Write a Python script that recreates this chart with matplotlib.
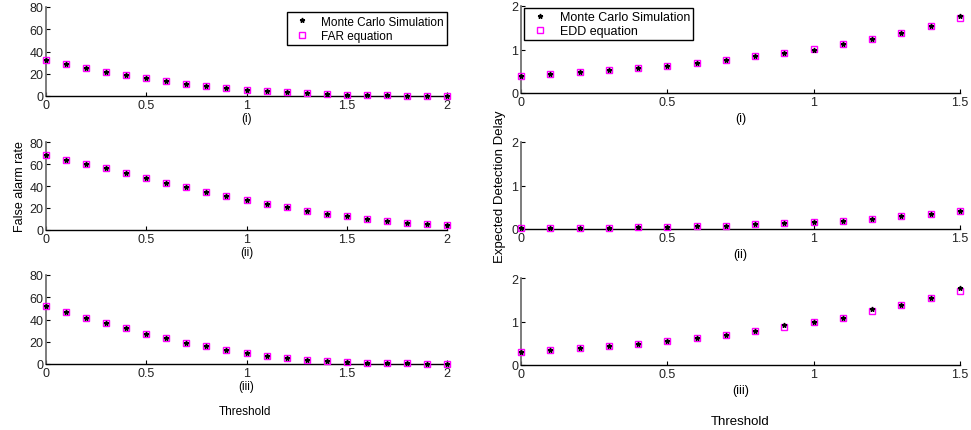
import numpy as np
import matplotlib.pyplot as plt

plt.rcParams['font.family'] = ['Liberation Sans', 'DejaVu Sans']
plt.rcParams['font.size'] = 9

# thresholds
thr_far = np.round(np.arange(0, 2.01, 0.1), 1)
thr_edd = np.round(np.arange(0, 1.51, 0.1), 1)

# false alarm rate: Monte Carlo / equation
far_mc_1 = [32, 28.5, 25, 22, 19, 16, 13.5, 11, 9, 7, 5.5, 4.5, 3.5, 2.5, 1.8, 1.2, 0.8, 0.5, 0.3, 0.2, 0.1]
far_eq_1 = [32, 28.5, 25, 22, 19, 16, 13.5, 11, 9, 7, 5.5, 4.5, 3.5, 2.5, 1.8, 1.2, 0.8, 0.5, 0.3, 0.2, 0.1]
far_mc_2 = [68, 64, 60, 56, 52, 47.5, 43, 39, 35, 31, 27.5, 24, 20.5, 17.5, 14.5, 12.5, 10, 8, 6.5, 5.5, 4.5]
far_eq_2 = [68, 64, 60, 56, 52, 47.5, 43, 39, 35, 31, 27.5, 24, 20.5, 17.5, 14.5, 12.5, 10, 8, 6.5, 5.5, 4.5]
far_mc_3 = [52, 47, 41.5, 36.5, 32, 27, 23, 19, 16, 12.5, 10, 7.5, 5.5, 4, 3, 2, 1.2, 0.8, 0.5, 0.3, 0.2]
far_eq_3 = [52, 47, 41.5, 36.5, 32, 27, 23, 19, 16, 12.5, 10, 7.5, 5.5, 4, 3, 2, 1.2, 0.8, 0.5, 0.3, 0.2]

# expected detection delay: Monte Carlo / equation
edd_mc_1 = [0.40, 0.44, 0.48, 0.53, 0.57, 0.63, 0.68, 0.76, 0.86, 0.92, 0.99, 1.13, 1.25, 1.37, 1.54, 1.77]
edd_eq_1 = [0.40, 0.44, 0.48, 0.53, 0.57, 0.63, 0.69, 0.76, 0.84, 0.92, 1.01, 1.13, 1.25, 1.38, 1.54, 1.72]
edd_mc_2 = [0.015, 0.02, 0.02, 0.03, 0.04, 0.05, 0.07, 0.08, 0.11, 0.13, 0.15, 0.19, 0.23, 0.29, 0.35, 0.42]
edd_eq_2 = [0.015, 0.02, 0.02, 0.03, 0.04, 0.05, 0.07, 0.08, 0.11, 0.13, 0.15, 0.19, 0.23, 0.29, 0.35, 0.42]
edd_mc_3 = [0.30, 0.35, 0.39, 0.44, 0.49, 0.56, 0.62, 0.69, 0.78, 0.91, 0.99, 1.09, 1.28, 1.37, 1.53, 1.76]
edd_eq_3 = [0.30, 0.35, 0.39, 0.44, 0.49, 0.55, 0.62, 0.69, 0.78, 0.88, 0.99, 1.09, 1.23, 1.37, 1.53, 1.71]

panel_names = ['(i)', '(ii)', '(iii)']

fig = plt.figure(figsize=(9.71, 4.31), dpi=100)

W, H = 971.0, 431.0
left_rows = [(8, 97), (143, 231), (276, 365)]
right_rows = [(7, 94), (143, 230), (279, 366)]


def style(ax):
    for s in ['top', 'right']:
        ax.spines[s].set_visible(False)
    ax.spines['left'].set_color('#666666')
    ax.spines['left'].set_linewidth(1.2)
    ax.spines['bottom'].set_linewidth(1.0)
    ax.tick_params(direction='in', length=3, width=0.8, pad=2, colors='black')
    ax.tick_params(axis='both', labelsize=9, labelcolor='#222222')


far_data = [(far_mc_1, far_eq_1), (far_mc_2, far_eq_2), (far_mc_3, far_eq_3)]
edd_data = [(edd_mc_1, edd_eq_1), (edd_mc_2, edd_eq_2), (edd_mc_3, edd_eq_3)]

for i in range(3):
    top, bot = left_rows[i]
    ax = fig.add_axes([46 / W, 1 - bot / H, (447 - 46) / W, (bot - top) / H])
    mc, eq = far_data[i]
    h2, = ax.plot(thr_far, eq, 's', mfc='none', mec='#ff00ff', ms=4.5, mew=1.0, zorder=3)
    h1, = ax.plot(thr_far, mc, '*', color='black', ms=3.5, zorder=4)
    ax.set_xlim(0, 2)
    ax.set_ylim(0, 80)
    ax.set_xticks([0, 0.5, 1, 1.5, 2])
    ax.set_xticklabels(['0', '0.5', '1', '1.5', '2'])
    ax.set_yticks([0, 20, 40, 60, 80])
    ax.set_xlabel(panel_names[i], fontsize=8.5, labelpad=1)
    style(ax)
    for p in ax.lines:
        p.set_clip_on(False)
    if i == 0:
        leg = ax.legend([h1, h2], ['Monte Carlo Simulation', 'FAR equation'],
                        loc='upper right', bbox_to_anchor=(1.0, 1 - 5 / 89), borderaxespad=0,
                        fancybox=False, edgecolor='black', framealpha=1, fontsize=8.5,
                        borderpad=0.3, handletextpad=0.6, labelspacing=0.2)
        leg.get_frame().set_linewidth(1.0)
    if i == 1:
        ax.set_ylabel('False alarm rate', fontsize=9, labelpad=2)

for i in range(3):
    top, bot = right_rows[i]
    ax = fig.add_axes([521 / W, 1 - bot / H, (960 - 521) / W, (bot - top) / H])
    mc, eq = edd_data[i]
    h2, = ax.plot(thr_edd, eq, 's', mfc='none', mec='#ff00ff', ms=4.5, mew=1.0, zorder=3)
    h1, = ax.plot(thr_edd, mc, '*', color='black', ms=3.5, zorder=4)
    ax.set_xlim(0, 1.5)
    ax.set_ylim(0, 2)
    ax.set_xticks([0, 0.5, 1, 1.5])
    ax.set_xticklabels(['0', '0.5', '1', '1.5'])
    ax.set_yticks([0, 1, 2])
    ax.set_xlabel(panel_names[i], fontsize=9, labelpad=3)
    style(ax)
    for p in ax.lines:
        p.set_clip_on(False)
    if i == 0:
        leg = ax.legend([h1, h2], ['Monte Carlo Simulation', 'EDD equation'],
                        loc='upper left', bbox_to_anchor=(3 / 439, 1 - 2 / 87), borderaxespad=0,
                        fancybox=False, edgecolor='black', framealpha=1, fontsize=9,
                        borderpad=0.25, handletextpad=0.6, labelspacing=0.15)
        leg.get_frame().set_linewidth(1.0)
    if i == 1:
        ax.set_ylabel('Expected Detection Delay', fontsize=9.5, labelpad=4)

fig.text(245 / W, 1 - 412 / H, 'Threshold', ha='center', va='center', fontsize=8.5)
fig.text(740 / W, 1 - 422 / H, 'Threshold', ha='center', va='center', fontsize=9.5)

fig.savefig('out.png', dpi=100)
